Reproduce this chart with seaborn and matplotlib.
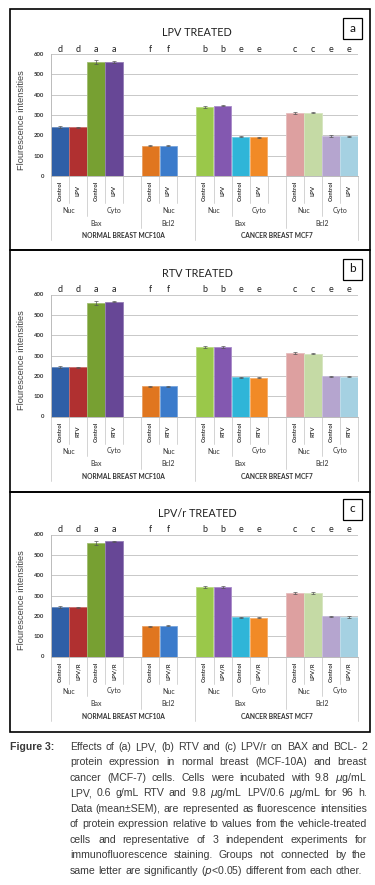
import numpy as np
import pandas as pd
import seaborn as sns
import matplotlib.pyplot as plt
from matplotlib.patches import Rectangle
from matplotlib.colors import to_rgb

# --- DATOS ---
# una entrada por categoria del eje x; las vacias dejan el hueco como en Excel
SLOTS = [str(i) for i in range(17)]
CELL_LINE = ["NORMAL BREAST MCF10A"] * 8 + ["CANCER BREAST MCF7"] * 9
PROTEIN = ["Bax"] * 5 + ["Bcl2"] * 3 + ["Bax"] * 5 + ["Bcl2"] * 4
LOCATION = ["Nuc", "Nuc", "Cyto", "Cyto", "Cyto", "Nuc", "Nuc", "Nuc",
            "Nuc", "Nuc", "Cyto", "Cyto", "Cyto", "Nuc", "Nuc", "Cyto", "Cyto"]
TREATMENT = ["Control", "DRUG", "Control", "DRUG", "", "Control", "DRUG", "",
             "Control", "DRUG", "Control", "DRUG", "", "Control", "DRUG", "Control", "DRUG"]
LETTERS = ["d", "d", "a", "a", "", "f", "f", "", "b", "b", "e", "e", "", "c", "c", "e", "e"]
BAR_COLORS = ["#2F5FA7", "#B03030", "#77A032", "#674796", "#FFFFFF", "#E0761F", "#3B7BCB", "#FFFFFF",
              "#9AC84A", "#8358B0", "#2FB5D8", "#F18A26", "#FFFFFF", "#DDA0A0", "#C5DAA5", "#B5A5CF", "#A5D1E2"]

PANELS = ["a", "b", "c"]
TITLES = ["LPV TREATED", "RTV TREATED", "LPV/r TREATED"]
DRUGS = ["LPV", "RTV", "LPV/R"]

N = np.nan
VALUES_LPV = [242, 240, 561, 562, N, 150, 150, N, 341, 346, 193, 190, N, 311, 311, 197, 195]
VALUES_RTV = [243, 241, 558, 565, N, 148, 149, N, 342, 342, 193, 190, N, 310, 308, 197, 196]
VALUES_LPVR = [242, 241, 560, 566, N, 149, 151, N, 342, 341, 192, 190, N, 310, 311, 197, 194]
SEM_LPV = [4, 3, 10, 5, N, 2, 2, N, 5, 4, 2, 2, N, 5, 3, 3, 3]
SEM_RTV = [4, 3, 10, 4, N, 2, 2, N, 5, 4, 2, 2, N, 5, 3, 3, 3]
SEM_LPVR = [4, 3, 10, 4, N, 2, 2, N, 4, 4, 2, 2, N, 5, 4, 3, 3]

CAPTION_HEAD = "Figure 3:"
CAPTION = [
    "Effects of (a) LPV, (b) RTV and (c) LPV/r on BAX and BCL- 2",
    "protein expression in normal breast (MCF-10A) and breast",
    r"cancer (MCF-7) cells. Cells were incubated with 9.8 $\mu$g/mL",
    r"LPV, 0.6 g/mL RTV and 9.8 $\mu$g/mL LPV/0.6 $\mu$g/mL for 96 h.",
    "Data (mean\u00b1SEM), are represented as fluorescence intensities",
    "of protein expression relative to values from the vehicle-treated",
    "cells and representative of 3 independent experiments for",
    "immunofluorescence staining. Groups not connected by the",
    r"same letter are significantly ($p$<0.05) different from each other.",
]

# --- GEOMETRIA (pixeles) ---
W, H = 375, 885
AX_X0, AX_X1, AX_H = 51, 358, 122
ZERO_Y = [176, 416.5, 656.5]
BORDERS = [9, 250, 491.5, 731.5]
NARROW = ["Liberation Sans Narrow", "Liberation Sans", "DejaVu Sans"]


def lighten(c, f=0.35):
    r, g, b = to_rgb(c)
    return (r + (1 - r) * f, g + (1 - g) * f, b + (1 - b) * f)


def groups(keys):
    # tramos consecutivos con la misma clave -> (inicio, fin, clave)
    out, start = [], 0
    for i in range(1, len(keys) + 1):
        if i == len(keys) or keys[i] != keys[start]:
            out.append((start, i, keys[start]))
            start = i
    return out


def draw_panel(fig, k, values, sem):
    zero = ZERO_Y[k]
    ax = fig.add_axes([AX_X0 / W, 1 - zero / H, (AX_X1 - AX_X0) / W, AX_H / H])

    df = pd.DataFrame({"slot": SLOTS, "valor": values})
    sns.barplot(data=df, x="slot", y="valor", hue="slot", order=SLOTS,
                palette=dict(zip(SLOTS, BAR_COLORS)), legend=False,
                errorbar=None, width=0.97, saturation=1, ax=ax)
    for p in ax.patches:
        p.set_edgecolor(lighten(p.get_facecolor(), 0.3))
        p.set_linewidth(0.6)

    ok = [i for i, v in enumerate(values) if not np.isnan(v)]
    ax.errorbar(ok, [values[i] for i in ok], yerr=[sem[i] for i in ok],
                fmt="none", ecolor="#555555", elinewidth=0.5, capsize=1.3, capthick=0.5)

    ax.set_xlim(-0.5, 16.5)
    ax.set_ylim(0, 600)
    ax.set_yticks(range(0, 601, 100))
    ax.set_yticklabels([str(v) for v in range(0, 601, 100)], fontsize=4.3,
                       fontweight="bold", color="#333333")
    ax.set_xticks(range(17))
    ax.set_xticklabels([])
    ax.tick_params(length=0, pad=5)
    ax.set_xlabel("")
    ax.set_ylabel("")
    ax.yaxis.grid(True, color="#C8C8C8", lw=0.7)
    ax.set_axisbelow(True)
    for s in ["top", "right"]:
        ax.spines[s].set_visible(False)
    for s in ["left", "bottom"]:
        ax.spines[s].set_color("#BBBBBB")
        ax.spines[s].set_linewidth(0.7)

    # letras de significancia
    tr = ax.get_xaxis_transform()
    for i, l in enumerate(LETTERS):
        if l:
            ax.text(i, 1 + 2 / AX_H, l, transform=tr, ha="center", va="baseline",
                    fontsize=6.5, color="#222222", clip_on=False)

    # etiquetas jerarquicas del eje x (estilo Excel)
    drug = DRUGS[k]
    treat = [t.replace("DRUG", drug) for t in TREATMENT]
    for i, t in enumerate(treat):
        if t:
            ax.text(i, -15 / AX_H, t, transform=tr, rotation=90, ha="center", va="center",
                    fontsize=4.3, fontweight="bold", color="#333333")
    levels = [
        (list(zip(CELL_LINE, PROTEIN, LOCATION)), -34.5, lambda key: key[2], 5, "normal"),
        (list(zip(CELL_LINE, PROTEIN)), -47.3, lambda key: key[1], 5, "normal"),
        (CELL_LINE, -60, lambda key: key, 4.8, "bold"),
    ]
    for keys, ypx, lab, fs, fw in levels:
        for a, b, key in groups(keys):
            ax.text((a + b - 1) / 2, ypx / AX_H, lab(key), transform=tr, ha="center",
                    va="center", fontsize=fs, fontweight=fw, color="#333333")
    # profundidad de cada divisor
    depth = {i: 27 for i in range(18)}
    for keys, d in [(list(zip(CELL_LINE, PROTEIN, LOCATION)), 39.5),
                    (list(zip(CELL_LINE, PROTEIN)), 52), (CELL_LINE, 64)]:
        for a, b, _ in groups(keys):
            depth[a] = max(depth[a], d)
            depth[b] = max(depth[b], d)
    for i, d in depth.items():
        ax.plot([i - 0.5, i - 0.5], [0, -d / AX_H], transform=tr, color="#CCCCCC",
                lw=0.6, clip_on=False)

    # titulo, caja con letra y etiqueta del eje y
    fig.text(197 / W, 1 - (zero - 143) / H, TITLES[k], ha="center", va="center",
             fontsize=7.8, color="#222222")
    fig.patches.append(Rectangle((343 / W, 1 - (zero - 137) / H), 19 / W, 21 / H,
                                 transform=fig.transFigure, fill=False, ec="black", lw=0.9))
    fig.text(352.5 / W, 1 - (zero - 147.5) / H, PANELS[k], ha="center", va="center",
             fontsize=8.5, color="#111111")
    fig.text(22 / W, 1 - (zero - 56) / H, "Flourescence intensities", rotation=90,
             ha="center", va="center", fontsize=6.7, color="#444444", family=NARROW)

    top, bot = BORDERS[k], BORDERS[k + 1]
    fig.patches.append(Rectangle((9.5 / W, 1 - bot / H), 360 / W, (bot - top) / H,
                                 transform=fig.transFigure, fill=False, ec="black", lw=1.2))


def text_width(fig, renderer, s, **kw):
    t = fig.text(0, 0, s, **kw)
    w = t.get_window_extent(renderer).width
    t.remove()
    return w


def justified(fig, renderer, line, x0, x1, y, last, **kw):
    words = line.split(" ")
    texts = [fig.text(0, 1 - y / H, w, ha="left", va="center", **kw) for w in words]
    widths = [t.get_window_extent(renderer).width for t in texts]
    if last or len(words) == 1:
        gap = text_width(fig, renderer, "n n", **kw) - text_width(fig, renderer, "nn", **kw)
    else:
        gap = (x1 - x0 - sum(widths)) / (len(words) - 1)
    x = x0
    for t, w in zip(texts, widths):
        t.set_x(x / W)
        x += w + gap


def main():
    sns.set_theme(style="white")
    plt.rcParams["font.family"] = ["Lato", "DejaVu Sans"]

    fig = plt.figure(figsize=(W / 100, H / 100), dpi=100)
    for k, (vals, err) in enumerate([(VALUES_LPV, SEM_LPV), (VALUES_RTV, SEM_RTV),
                                     (VALUES_LPVR, SEM_LPVR)]):
        draw_panel(fig, k, vals, err)

    # --- PIE DE FIGURA ---
    renderer = fig.canvas.get_renderer()
    base = dict(color="#3A3A3A", family=NARROW)
    # tamano de letra: la linea mas larga debe caber con un espacio minimo
    widest = max(text_width(fig, renderer, s, fontsize=10, **base) for s in CAPTION)
    fs = 10 * 293 / widest
    kw = dict(fontsize=fs, **base)
    fig.text(10 / W, 1 - 747 / H, CAPTION_HEAD, ha="left", va="center",
             fontweight="bold", **kw)
    for j, line in enumerate(CAPTION):
        justified(fig, renderer, line, 70, 367, 747 + j * 15.45, j == len(CAPTION) - 1, **kw)

    fig.savefig("out.png", dpi=100)


if __name__ == "__main__":
    main()
